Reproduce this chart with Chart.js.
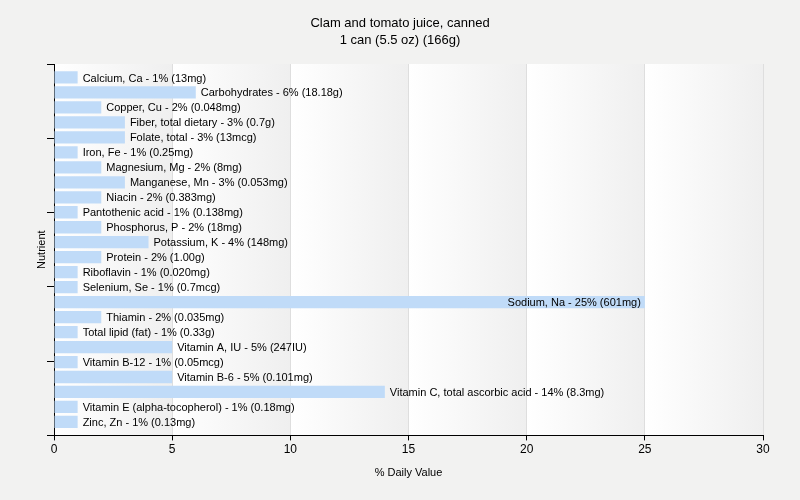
<!DOCTYPE html>
<html>
<head>
<meta charset="utf-8">
<script src="https://cdn.jsdelivr.net/npm/chart.js@4"></script>
<style>
  html, body { margin: 0; padding: 0; background: #f2f2f1; }
  #wrap { width: 800px; height: 500px; position: relative; }
</style>
</head>
<body>
<div id="wrap"><canvas id="chart" width="800" height="500"></canvas></div>
<script>
// Nutrient names, % daily value, and label amounts
const nutrients = ['Calcium, Ca', 'Carbohydrates', 'Copper, Cu', 'Fiber, total dietary', 'Folate, total',
  'Iron, Fe', 'Magnesium, Mg', 'Manganese, Mn', 'Niacin', 'Pantothenic acid', 'Phosphorus, P',
  'Potassium, K', 'Protein', 'Riboflavin', 'Selenium, Se', 'Sodium, Na', 'Thiamin', 'Total lipid (fat)',
  'Vitamin A, IU', 'Vitamin B-12', 'Vitamin B-6', 'Vitamin C, total ascorbic acid',
  'Vitamin E (alpha-tocopherol)', 'Zinc, Zn'];
const dailyValues = [1, 6, 2, 3, 3, 1, 2, 3, 2, 1, 2, 4, 2, 1, 1, 25, 2, 1, 5, 1, 5, 14, 1, 1];
const amounts = ['13mg', '18.18g', '0.048mg', '0.7g', '13mcg', '0.25mg', '8mg', '0.053mg', '0.383mg',
  '0.138mg', '18mg', '148mg', '1.00g', '0.020mg', '0.7mcg', '601mg', '0.035mg', '0.33g', '247IU',
  '0.05mcg', '0.101mg', '8.3mg', '0.18mg', '0.13mg'];
const xTicks = [0, 5, 10, 15, 20, 25, 30];
const titleLines = ['Clam and tomato juice, canned', '1 can (5.5 oz) (166g)'];

const FONT = '"Liberation Sans", Arial, sans-serif';
const yMin = -0.9, yMax = nutrients.length - 0.1;

// striped gradient columns behind the plot, plus the centred title
const bgPlugin = {
  id: 'columns',
  beforeDraw(chart) {
    const { ctx, chartArea: a, scales: { x } } = chart;
    ctx.save();
    ctx.fillStyle = '#f2f2f1';
    ctx.fillRect(0, 0, chart.width, chart.height);
    for (let i = 0; i < xTicks.length - 1; i++) {
      const l = x.getPixelForValue(xTicks[i]);
      const r = x.getPixelForValue(xTicks[i + 1]);
      const g = ctx.createLinearGradient(l, 0, r, 0);
      g.addColorStop(0, '#ffffff');
      g.addColorStop(1, '#efefef');
      ctx.fillStyle = g;
      ctx.fillRect(l, a.top, r - l, a.bottom - a.top);
    }
    ctx.font = '13px ' + FONT;
    ctx.fillStyle = '#000';
    ctx.textAlign = 'center';
    ctx.textBaseline = 'middle';
    titleLines.forEach((t, i) => ctx.fillText(t, chart.width / 2, 23 + i * 17));
    ctx.restore();
  }
};

// bar labels: right of the bar, or inside when it does not fit
const labelPlugin = {
  id: 'barLabels',
  afterDatasetsDraw(chart) {
    const { ctx, chartArea: a } = chart;
    const meta = chart.getDatasetMeta(0);
    ctx.save();
    ctx.font = '11px ' + FONT;
    ctx.fillStyle = '#000';
    ctx.textBaseline = 'middle';
    meta.data.forEach((bar, i) => {
      const txt = `${nutrients[i]} - ${dailyValues[i]}% (${amounts[i]})`;
      const w = ctx.measureText(txt).width;
      if (bar.x + 5 + w <= a.right) {
        ctx.textAlign = 'left';
        ctx.fillText(txt, bar.x + 5, bar.y + 1);
      } else {
        ctx.textAlign = 'right';
        ctx.fillText(txt, bar.x - 4, bar.y + 1);
      }
    });
    ctx.restore();
  }
};

new Chart(document.getElementById('chart'), {
  type: 'bar',
  data: {
    datasets: [{
      data: dailyValues.map((v, i) => ({ x: v, y: i })),
      backgroundColor: '#c0dbf8',
      borderWidth: 0,
      barPercentage: 0.82,
      categoryPercentage: 1
    }]
  },
  options: {
    indexAxis: 'y',
    responsive: false,
    animation: false,
    devicePixelRatio: 1,
    layout: { padding: { left: 0, right: 37, top: 64, bottom: 0 } },
    plugins: {
      legend: { display: false },
      tooltip: { enabled: false },
      title: { display: false }
    },
    scales: {
      x: {
        type: 'linear',
        min: 0, max: 30,
        afterBuildTicks: s => { s.ticks = xTicks.map(v => ({ value: v })); },
        border: { color: '#000', width: 1 },
        grid: { color: '#dedede', tickColor: '#000', tickLength: 5 },
        ticks: { color: '#000', font: { family: FONT, size: 12 }, padding: 2 },
        title: { display: true, text: '% Daily Value', color: '#000',
          font: { family: FONT, size: 11 }, padding: { top: 8, bottom: 20 } }
      },
      y: {
        type: 'linear',
        reverse: true,
        offset: false,
        min: yMin, max: yMax,
        afterBuildTicks: s => {
          s.ticks = [0, 1, 2, 3, 4, 5].map(k => ({ value: yMin + k * (yMax - yMin) / 5 }));
        },
        border: { color: '#000', width: 1 },
        grid: { offset: false, drawOnChartArea: false, tickColor: '#000', tickLength: 7 },
        ticks: { display: false },
        title: { display: true, text: 'Nutrient', color: '#000',
          font: { family: FONT, size: 11 }, padding: { top: 35, bottom: 0 } },
        afterFit: s => { s.width = 54; }
      }
    }
  },
  plugins: [bgPlugin, labelPlugin]
});
</script>
</body>
</html>
